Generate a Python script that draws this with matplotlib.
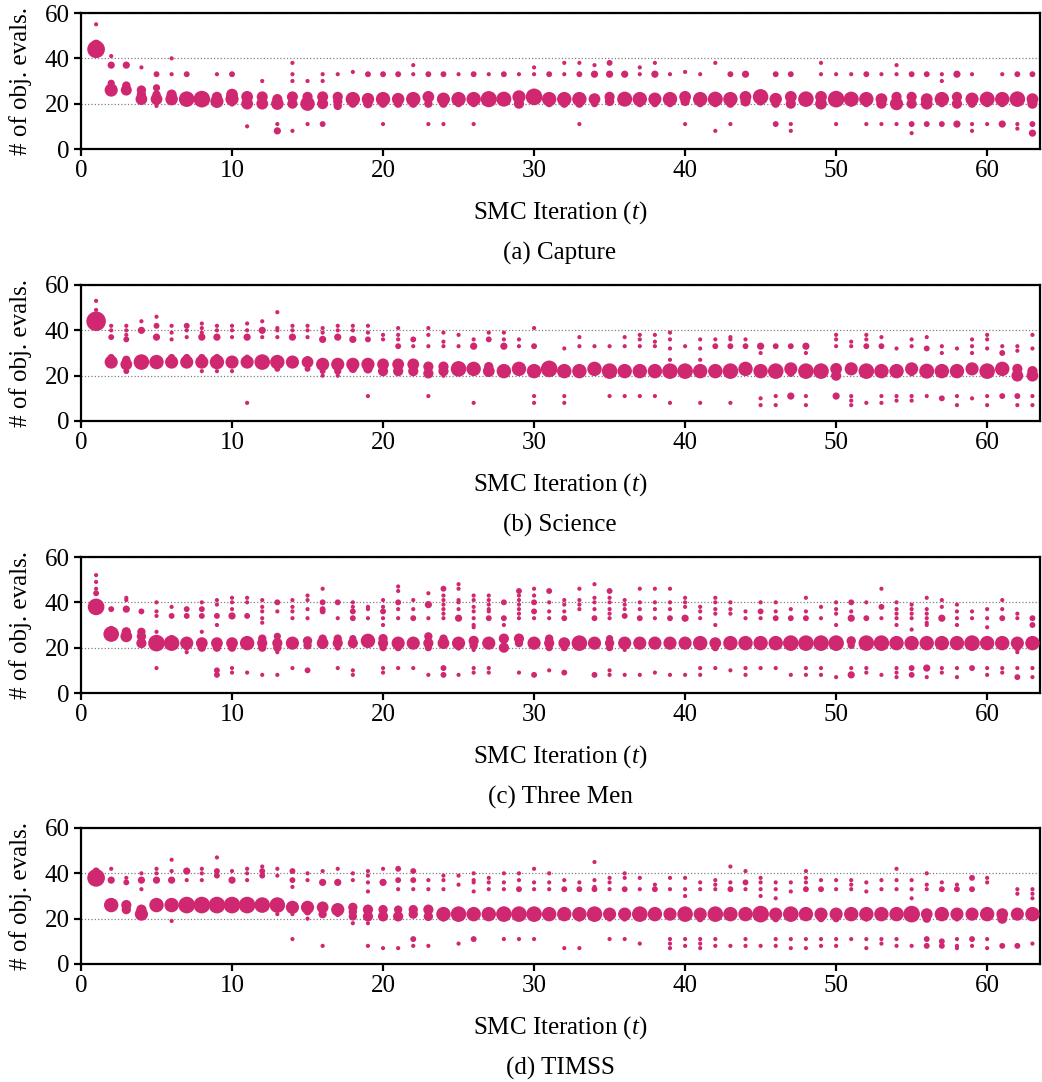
import matplotlib
matplotlib.use("Agg")
import matplotlib.pyplot as plt

plt.rcParams["font.family"] = ["Liberation Serif", "DejaVu Serif"]
plt.rcParams["mathtext.fontset"] = "custom"
plt.rcParams["mathtext.rm"] = "Liberation Serif"
plt.rcParams["mathtext.it"] = "Liberation Serif:italic"

PINK = "#cf2870"

iterations = list(range(1, 64))
panel_names = ["(a) Capture", "(b) Science", "(c) Three Men", "(d) TIMSS"]
x_ticks = [0, 10, 20, 30, 40, 50, 60]
y_ticks = [0, 20, 40, 60]

# one string per SMC iteration: "evals:count" pairs
capture = [
    "44:18 46:6 55:1", "41:1 37:3 29:3 26:10", "37:3 28:4 26:7",
    "36:1 26:5 24:5 22:8", "33:2 27:3 24:4 22:8 19:1", "40:1 33:1 24:6 22:9",
    "33:2 22:14", "22:16", "33:1 23:6 21:10", "33:2 24:8 22:10 20:2",
    "23:8 20:8 10:1", "30:1 23:7 20:8", "22:6 20:9 11:1 8:3",
    "38:1 33:1 30:1 23:7 20:6 8:1", "30:1 23:6 20:12 11:1",
    "33:1 30:1 23:7 20:7 11:2", "33:1 23:6 21:5 19:4", "34:1 22:12 20:4",
    "33:2 22:9 20:5", "33:2 22:12 20:4 11:1", "33:2 22:9 20:4",
    "37:1 33:1 22:12 20:4", "33:2 23:8 20:4 11:1", "33:2 22:10 20:4 11:1",
    "33:1 22:12 20:3", "33:2 22:12 20:3 11:1", "33:1 22:15", "33:2 22:13",
    "33:1 23:10 20:6", "36:1 33:1 23:16", "33:2 22:12 20:3",
    "38:1 33:1 22:12 20:4", "38:1 33:2 22:12 20:4 11:1", "37:1 33:3 22:8 20:3",
    "38:2 33:3 23:6 21:5", "33:3 22:13", "36:1 33:1 22:12 20:3",
    "38:1 33:3 22:10 20:3", "33:1 22:12 20:3", "34:1 23:8 21:5 11:1",
    "33:1 22:12 20:3", "38:1 22:13 20:3 8:1", "33:2 22:12 20:4 11:1",
    "33:3 23:8 21:6", "23:14 21:4", "33:2 22:9 20:4 11:2",
    "33:2 23:8 20:6 11:1 8:1", "22:14", "38:1 33:1 23:8 20:8",
    "33:1 22:16 11:1", "33:1 22:13 20:2", "33:2 22:12 20:3 11:1",
    "33:1 22:8 20:6 11:1", "37:1 33:1 23:6 20:10 11:1",
    "33:2 23:6 20:6 11:2 7:1", "33:2 22:8 20:8 11:2",
    "33:1 30:1 22:12 20:3 11:2", "33:3 23:6 20:6 11:3",
    "33:1 22:10 20:4 11:1 8:1", "22:13 20:3 11:1", "33:1 22:12 20:3 11:3",
    "33:2 22:14 11:1 9:1", "33:2 22:8 20:6 11:2 7:3",
]

science = [
    "53:1 49:1 44:22", "42:1 40:1 37:2 28:3 26:10",
    "42:1 40:1 38:1 36:2 27:4 25:8 22:2", "44:1 40:3 26:14",
    "46:1 42:2 37:3 27:3 26:12", "42:1 39:1 36:1 28:3 26:10",
    "42:2 40:1 37:1 28:3 26:10", "43:1 41:1 39:1 37:3 28:3 26:10 22:1",
    "42:1 40:1 37:3 28:3 26:12 22:1", "42:1 40:1 37:1 27:3 26:10 22:1",
    "43:1 40:1 37:3 28:2 26:10 8:1", "44:1 40:3 37:1 26:14",
    "48:1 41:1 40:1 37:1 26:12 23:2", "42:1 40:1 37:3 26:10",
    "42:1 40:1 37:1 27:3 26:8 23:2", "41:1 39:1 36:3 25:10 22:2 20:1",
    "42:1 40:1 37:3 25:10 22:3 20:1", "42:1 40:1 36:3 25:10 23:4",
    "42:1 39:1 36:2 25:10 23:5 11:1", "38:1 36:1 25:8 22:6",
    "41:1 38:1 36:1 33:2 25:8 22:6", "36:2 33:1 25:8 22:6",
    "41:1 38:1 33:1 24:6 21:6 11:1", "39:1 35:1 33:1 24:6 22:6 20:1",
    "38:1 33:1 23:14", "36:1 33:3 23:12 8:1", "39:1 36:2 24:5 22:8",
    "39:1 36:1 33:3 22:12", "36:1 33:1 23:12", "41:1 33:2 22:12 11:1 8:1",
    "23:16", "32:1 22:12 11:1 8:1", "37:1 33:1 22:12", "33:1 23:12",
    "33:1 22:14 11:1", "37:1 33:1 22:12 11:1", "38:1 36:1 33:1 22:12 11:1",
    "38:1 35:1 33:1 22:12 11:1", "39:1 36:1 32:1 27:1 22:14 8:1",
    "33:1 22:14", "36:1 32:1 27:1 22:12 8:1", "36:1 33:2 22:12",
    "37:1 36:1 33:2 22:14 8:1", "36:1 33:2 23:12",
    "33:3 30:1 22:12 10:1 7:1", "33:2 22:14 11:1 7:1",
    "33:2 23:10 21:3 11:3", "33:3 30:1 22:14 11:1 7:1", "22:14",
    "38:1 36:1 33:1 23:8 20:6 11:3", "35:1 33:1 23:10 11:1 9:1 7:1",
    "38:1 36:1 33:2 22:14 8:1", "37:1 33:2 22:12 11:1 8:1",
    "32:1 22:12 11:1 9:1", "36:1 33:1 23:10 21:2 11:1 9:1",
    "37:1 32:2 22:13 11:1", "33:1 30:1 22:12 10:2", "32:1 22:12 11:1 7:1",
    "36:1 33:1 30:1 23:10 10:1", "38:1 36:1 32:1 22:14 11:1 7:1",
    "33:1 30:2 23:12 11:2", "33:1 31:1 23:6 20:8 11:2 7:1",
    "38:1 32:1 22:6 20:8 11:1 7:1",
]

three_men = [
    "52:1 49:1 46:1 44:2 38:16", "37:2 28:3 26:14",
    "42:1 41:1 37:3 27:5 25:8", "36:2 27:4 25:5 22:6",
    "40:1 36:1 34:1 27:1 22:16 11:1", "38:1 34:2 24:3 22:14",
    "37:2 34:2 22:10 20:2 18:1", "40:1 37:2 34:2 27:1 22:8 20:4",
    "41:1 39:1 34:2 30:1 22:8 20:4 10:2 8:2",
    "42:1 40:1 37:1 34:3 22:8 20:4 11:1 9:1", "42:1 40:1 34:2 22:12 9:1",
    "41:1 38:1 36:1 33:1 31:1 24:4 22:6 20:4 8:1",
    "40:2 36:1 25:3 22:6 20:4 18:1 8:1", "41:1 38:1 36:1 33:1 22:10 11:1",
    "43:1 41:1 37:1 33:1 23:5 21:4 10:2", "46:1 40:2 37:2 36:2 24:4 22:8",
    "40:2 33:1 24:4 22:6 20:2 11:1", "40:1 38:1 36:2 33:2 24:3 22:6 10:1 8:1",
    "38:1 37:1 33:1 23:12",
    "41:1 38:1 36:2 33:1 30:1 24:5 22:6 20:3 11:1 9:1",
    "47:1 45:1 40:2 37:1 33:1 22:10 20:3 11:1", "41:1 37:1 33:2 22:10 11:1",
    "44:1 39:3 33:1 25:4 22:6 20:3 8:1",
    "46:2 43:1 41:1 39:1 37:1 35:1 33:1 24:4 22:8 11:2 8:2",
    "48:1 46:1 41:1 40:1 37:1 33:3 22:10 20:2 8:1",
    "43:1 41:1 38:1 36:1 33:1 30:1 29:1 23:6 21:4 19:1 11:1 9:1",
    "43:1 41:1 39:1 37:1 36:1 33:2 22:10 11:1 9:1", "40:2 33:2 30:1 24:6 20:6",
    "45:2 43:1 41:1 39:1 37:1 35:1 33:1 24:6 22:4 9:1",
    "46:1 43:1 40:2 36:2 33:1 22:10 8:2",
    "45:2 40:1 36:1 33:1 24:4 22:6 20:3 10:1",
    "41:1 39:1 36:1 33:2 22:8 20:3 9:2", "46:1 41:1 39:1 37:1 22:14",
    "48:1 42:1 40:1 37:1 33:2 22:10 8:2",
    "45:2 42:1 40:1 37:1 35:1 33:1 24:3 22:5 20:3 10:1 8:1",
    "41:1 39:1 37:1 34:2 22:10 19:1 8:1", "46:1 40:1 37:1 33:2 22:10 8:1",
    "46:1 40:1 37:1 33:1 22:10 9:1", "46:1 40:1 37:1 33:2 22:10 8:1",
    "42:1 40:1 38:1 33:3 22:10 8:1", "38:1 36:1 33:1 22:12 11:1 8:1",
    "42:1 40:1 37:1 35:1 30:1 22:8 20:3 11:1", "40:1 37:1 35:1 22:12 10:1",
    "36:1 33:1 22:12 11:1 8:1", "40:1 36:2 33:1 22:12 11:1",
    "40:1 36:1 33:2 22:12 11:1", "37:1 33:2 22:14 8:1",
    "42:1 36:1 33:2 22:14 11:1 8:1", "38:1 33:1 22:14 11:1 8:1",
    "40:1 37:1 35:1 30:1 22:14 20:2 7:1", "40:2 36:1 33:3 23:5 21:3 11:1 8:3",
    "40:1 33:2 22:14 11:1 9:1", "46:1 38:2 33:1 22:14 8:1",
    "40:1 37:1 35:1 33:1 30:1 22:12 11:1 9:1 7:1",
    "39:1 37:1 35:1 33:1 28:1 22:12 11:2 8:2",
    "42:1 37:1 35:1 33:1 31:1 30:1 22:12 11:3 7:1",
    "41:1 38:1 33:3 22:12 11:1 9:1", "39:1 36:1 33:1 30:1 22:12 11:1 7:1",
    "36:1 33:1 22:14 11:2", "37:1 33:1 29:1 22:12 11:1 8:1",
    "41:1 37:1 33:2 22:12 11:1 9:1", "35:1 33:1 22:10 20:3 18:1 11:1 7:2",
    "33:2 30:2 22:12 11:1 7:1",
]

timss = [
    "41:3 38:18", "42:1 37:3 26:12", "38:1 36:2 26:6 24:5",
    "40:1 37:3 33:1 24:6 22:10", "42:1 40:1 37:3 26:12",
    "46:1 41:1 37:3 26:12 19:1", "41:3 37:1 26:16", "42:1 40:1 37:1 26:16",
    "47:1 41:2 39:2 26:16", "41:1 37:3 26:16", "42:1 40:1 37:1 28:2 26:16",
    "43:1 41:2 39:2 26:14", "42:1 39:1 26:14 22:1",
    "41:2 37:2 34:1 25:10 22:1 11:1", "40:1 37:1 25:10 23:3 20:1",
    "41:1 36:3 25:8 22:4 8:1", "42:1 36:3 24:10 22:2",
    "40:1 37:1 25:5 23:4 21:4 18:1", "41:1 39:1 36:1 32:1 24:6 21:6 18:1 8:1",
    "42:1 36:3 24:5 21:6 7:1", "42:2 37:2 33:1 24:4 21:6 7:1",
    "41:2 37:2 33:1 24:5 22:5 11:2 8:1", "37:1 33:1 24:6 21:5 8:1",
    "39:1 37:1 33:1 22:12 20:2", "39:1 35:1 22:14 9:1",
    "40:1 37:1 36:1 32:1 22:12 11:2", "38:1 36:1 33:1 22:12",
    "40:1 36:1 33:1 24:2 22:14 11:1", "40:1 37:1 33:2 22:14 11:1",
    "42:1 36:1 33:1 22:14 11:1", "40:1 36:1 33:1 22:12",
    "37:1 33:2 22:12 7:1", "36:1 33:2 22:12 20:2 7:1",
    "45:1 37:1 34:1 33:2 22:14", "38:1 36:1 33:1 22:10 20:2 11:1",
    "40:1 38:1 33:2 22:10 20:2 11:1", "38:1 33:1 22:14 9:1", "35:1 33:2 22:12",
    "38:1 33:1 22:10 11:1 9:1 7:1", "38:1 33:1 30:1 22:14 11:1 8:1",
    "36:1 33:1 22:10 20:3 11:1 9:1 7:1", "37:1 35:1 33:1 22:14 11:1 8:1",
    "43:1 36:1 33:2 22:12 8:1", "41:1 36:2 33:1 22:12 11:1 8:1",
    "38:1 36:1 33:1 30:1 22:16 8:1", "36:1 33:1 29:1 22:10 20:3 11:1 8:1",
    "36:1 32:1 22:14 11:1 7:1", "41:1 38:1 36:1 33:2 22:12 11:1 7:1",
    "37:1 33:2 22:10 20:3 11:1 8:1", "37:1 33:1 22:10 20:3 11:1 8:1",
    "37:1 35:1 33:1 22:12 11:1", "36:1 32:1 22:12 20:2 11:1 7:1",
    "37:1 33:1 22:12 11:1 9:1", "42:1 37:1 33:1 22:12 11:1 8:1",
    "37:1 33:1 29:1 22:16 8:1", "40:1 35:1 33:1 22:8 20:4 11:2 8:2",
    "36:1 33:2 22:12 10:2 8:2", "35:1 33:2 22:10 20:2 11:1 8:1 7:1",
    "38:2 33:2 22:10 11:2 8:1", "38:1 36:1 22:12 11:1 7:1", "22:8 20:6 8:2",
    "33:1 31:1 22:10 8:2", "33:1 31:1 29:1 22:12 9:1",
]


def unpack(columns):
    xs, ys, ns = [], [], []
    for t, col in zip(iterations, columns):
        for pair in col.split():
            y, n = pair.split(":")
            xs.append(t)
            ys.append(int(y))
            ns.append(int(n))
    return xs, ys, ns


panels = [capture, science, three_men, timss]
tops_px = [13, 285, 557, 828]

fig = plt.figure(figsize=(10.42, 10.82), dpi=100)
W, H = 1042, 1082

for name, cols, top in zip(panel_names, panels, tops_px):
    ax = fig.add_axes([81 / W, 1 - (top + 136) / H, 959 / W, 136 / H])
    xs, ys, ns = unpack(cols)
    sizes = [9.0 * n for n in ns]
    ax.scatter(xs, ys, s=sizes, color=PINK, linewidths=0, zorder=3)

    ax.set_xlim(0, 63.5)
    ax.set_ylim(0, 60)
    ax.set_xticks(x_ticks)
    ax.set_yticks(y_ticks)
    ax.yaxis.grid(True, ls=":", color="gray", lw=0.9)
    ax.set_axisbelow(True)
    for sp in ax.spines.values():
        sp.set_linewidth(1.6)
    ax.tick_params(labelsize=18, length=5, width=1.6, direction="out", pad=3)
    ax.set_xlabel("SMC Iteration ($t$)", fontsize=18, labelpad=12)
    ax.set_ylabel("# of obj. evals.", fontsize=18, labelpad=9)

    fig.text(560 / W, 1 - (top + 240) / H, name, fontsize=18,
             ha="center", va="center")

fig.savefig("out.png", dpi=100)
